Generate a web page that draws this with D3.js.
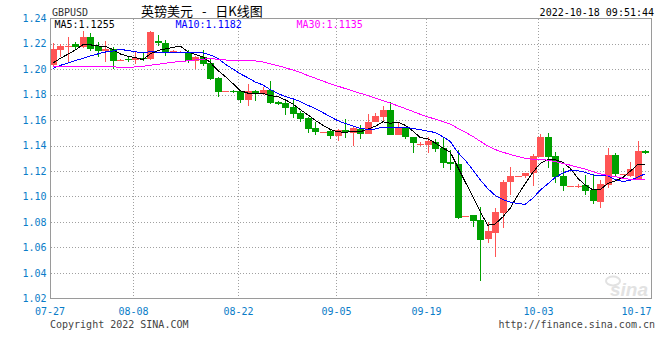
<!DOCTYPE html>
<html><head><meta charset="utf-8">
<script src="https://cdn.jsdelivr.net/npm/d3@7/dist/d3.min.js"></script>
<style>body{margin:0;background:#fff}svg{display:block}</style>
</head><body><svg id="chart" width="660" height="360"></svg>
<script>
// ---- data ----
const openP  = [1.2031,1.2151,1.2176,1.2196,1.2175,1.2249,1.2180,1.2141,1.2157,1.2069,
  1.2075,1.2068,1.2086,1.2076,1.2222,1.2202,1.2131,1.2128,1.2131,1.2065,
  1.2092,1.2045,1.1932,1.1824,1.1827,1.1827,1.1757,1.1827,1.1804,1.1835,
  1.1744,1.1736,1.1705,1.1657,1.1618,1.1540,1.1502,1.1510,1.1477,1.1522,
  1.1500,1.1530,1.1491,1.1587,1.1626,1.1678,1.1482,1.1541,1.1469,1.1409,
  1.1404,1.1428,1.1378,1.1273,1.1255,1.0843,1.0855,1.0816,1.0667,1.0716,
  1.0873,1.1116,1.1159,1.1161,1.1182,1.1312,1.1469,1.1318,1.1161,1.1079,
  1.1079,1.1090,1.1051,1.0959,1.1090,1.1325,1.1175,1.1163,1.1137,1.1357];
const highP  = [1.2204,1.2196,1.2253,1.2214,1.2298,1.2282,1.2209,1.2220,1.2175,1.2075,
  1.2094,1.2131,1.2131,1.2298,1.2267,1.2228,1.2147,1.2140,1.2149,1.2104,
  1.2149,1.2076,1.1937,1.1827,1.1835,1.1835,1.1882,1.1835,1.1861,1.1906,
  1.1749,1.1751,1.1757,1.1671,1.1626,1.1585,1.1506,1.1530,1.1527,1.1610,
  1.1545,1.1561,1.1647,1.1655,1.1710,1.1741,1.1588,1.1548,1.1469,1.1425,
  1.1467,1.1451,1.1457,1.1361,1.1365,1.0847,1.0855,1.0920,1.0802,1.0907,
  1.1129,1.1234,1.1162,1.1188,1.1333,1.1490,1.1496,1.1351,1.1221,1.1083,
  1.1096,1.1169,1.1174,1.1129,1.1383,1.1339,1.1178,1.1268,1.1438,1.1365];
const lowP   = [1.2027,1.2092,1.2057,1.2157,1.2167,1.2141,1.2097,1.2057,1.1998,1.2067,
  1.2057,1.2039,1.2065,1.2071,1.2183,1.2104,1.2125,1.2125,1.2045,1.2000,
  1.2024,1.1914,1.1783,1.1823,1.1814,1.1736,1.1712,1.1749,1.1796,1.1729,
  1.1718,1.1639,1.1618,1.1587,1.1496,1.1482,1.1501,1.1451,1.1435,1.1459,
  1.1396,1.1451,1.1491,1.1582,1.1592,1.1482,1.1482,1.1451,1.1344,1.1399,
  1.1344,1.1349,1.1226,1.1208,1.0824,1.0842,1.0763,1.0340,1.0638,1.0528,
  1.0751,1.1012,1.1158,1.1147,1.1082,1.1312,1.1221,1.1104,1.1046,1.1078,
  1.1064,1.1012,1.0939,1.0912,1.1064,1.1155,1.1174,1.1155,1.1129,1.1331];
const closeP = [1.2157,1.2183,1.2180,1.2175,1.2253,1.2157,1.2141,1.2157,1.2065,1.2072,
  1.2068,1.2084,1.2081,1.2288,1.2202,1.2131,1.2141,1.2136,1.2065,1.2097,
  1.2039,1.1922,1.1822,1.1827,1.1823,1.1757,1.1827,1.1804,1.1835,1.1731,
  1.1723,1.1697,1.1647,1.1608,1.1529,1.1508,1.1505,1.1477,1.1522,1.1504,
  1.1540,1.1491,1.1587,1.1632,1.1678,1.1482,1.1535,1.1463,1.1416,1.1412,
  1.1437,1.1373,1.1265,1.1253,1.0831,1.0847,1.0810,1.0659,1.0729,1.0881,
  1.1116,1.1161,1.1162,1.1187,1.1318,1.1469,1.1312,1.1155,1.1085,1.1082,
  1.1082,1.1045,1.0965,1.1098,1.1325,1.1176,1.1178,1.1216,1.1357,1.1339];
// moving-average values at the start of the window (need data before the window)
const ma5Head  = [1.2045,1.2084,1.2115,1.2149];
const ma10Head = [1.2004,1.2028,1.2047,1.2067,1.2082,1.2102,1.2118,1.2133,1.2141];
const ma30Head = [1.2019,1.2019,1.2019,1.2019,1.2019,1.2019,1.2019,1.2019,1.2019,
  1.2011,1.2009,1.2017,1.2021,1.2029,1.2037,1.2045,1.2053,1.2059,1.2064,1.2071,
  1.2077,1.2081,1.2077,1.2071,1.2067,1.2065,1.2065,1.2063,1.2056];
const tickLabels = ["07-27","08-08","08-22","09-05","09-19","10-03","10-17"];
const tickIndex  = [0,11,25,38,50,65,78];
const gridIndex  = [11,25,38,50,65];
const yTicks = [1.02,1.04,1.06,1.08,1.10,1.12,1.14,1.16,1.18,1.20,1.22,1.24];
const maNames = ["MA5","MA10","MA30"];
const maLegend = ["1.1255","1.1182","1.1135"];
const symbol = "GBPUSD";
const title = "英镑美元 - 日K线图";
const stamp = "2022-10-18 09:51:44";

// ---- drawing ----
const n = closeP.length;
const svg = d3.select("#chart");
const L = 50, R = 651, T = 18, B = 298.5;
const mono = "'DejaVu Sans Mono', monospace";
const x = d3.scaleBand().domain(d3.range(n)).range([49, 649]);
const xc = i => x(i) + x.bandwidth() / 2;
const y = d3.scaleLinear().domain([1.02, 1.24]).range([B, T]);

function movAvg(k, head) {
  return d3.range(n).map(i => i >= k - 1 ? d3.mean(closeP.slice(i - k + 1, i + 1)) : head[i]);
}
const mas = [movAvg(5, ma5Head), movAvg(10, ma10Head), movAvg(30, ma30Head)];
const maColors = ["#000000", "#0000ff", "#ff00ff"];

// grid
const g = svg.append("g");
g.selectAll("line.hg").data(yTicks.slice(1, -1)).join("line")
  .attr("x1", L + 1).attr("x2", R).attr("y1", d => Math.round(y(d)) + 0.5).attr("y2", d => Math.round(y(d)) + 0.5)
  .attr("stroke", "#a0a0a0").attr("stroke-dasharray", "1,2").attr("shape-rendering", "crispEdges");
g.selectAll("line.vg").data(gridIndex).join("line")
  .attr("x1", d => Math.round(xc(d)) - 1.5).attr("x2", d => Math.round(xc(d)) - 1.5)
  .attr("y1", T + 1).attr("y2", B)
  .attr("stroke", "#a0a0a0").attr("stroke-dasharray", "1,2").attr("shape-rendering", "crispEdges");

// watermark
const wm = svg.append("g").attr("fill", "#e2e2e2");
wm.append("text").attr("x", 648).attr("y", 296).attr("text-anchor", "end")
  .attr("font-family", "'Liberation Sans', Arial, sans-serif").attr("font-style", "italic")
  .attr("font-weight", "bold").attr("font-size", 19).text("sina");
wm.append("ellipse").attr("cx", 613).attr("cy", 281).attr("rx", 7).attr("ry", 4.5)
  .attr("fill", "none").attr("stroke", "#e2e2e2").attr("stroke-width", 2);

// candles
const cg = svg.append("g").attr("shape-rendering", "crispEdges");
const up = i => closeP[i] >= openP[i];
const red = "#ff5555", green = "#00a000";
cg.selectAll("line.wick").data(d3.range(n)).join("line")
  .attr("x1", i => Math.round(xc(i) - 3) + 3.5).attr("x2", i => Math.round(xc(i) - 3) + 3.5)
  .attr("y1", i => y(highP[i])).attr("y2", i => y(lowP[i]))
  .attr("stroke", i => up(i) ? red : green);
cg.selectAll("rect.body").data(d3.range(n)).join("rect")
  .attr("x", i => Math.round(xc(i) - 3)).attr("width", 7)
  .attr("y", i => y(Math.max(openP[i], closeP[i])))
  .attr("height", i => Math.max(1, Math.abs(y(openP[i]) - y(closeP[i]))))
  .attr("fill", i => up(i) ? red : green);

// moving averages
mas.forEach((m, k) => {
  svg.append("path").datum(m)
    .attr("d", d3.line().x((d, i) => xc(i)).y(d => y(d)))
    .attr("fill", "none").attr("stroke", maColors[k]).attr("stroke-width", 1)
    .attr("shape-rendering", "crispEdges");
});

// frame
svg.append("path")
  .attr("d", `M${L + 0.5},${T + 0.5}H${R + 0.5}V${B}H${L + 0.5}Z`)
  .attr("fill", "none").attr("stroke", "#9a9a9a").attr("shape-rendering", "crispEdges");

// y axis labels
svg.append("g").selectAll("text").data(yTicks).join("text")
  .attr("x", 46.5).attr("y", d => y(d)).attr("dy", "0.35em").attr("text-anchor", "end")
  .attr("font-family", mono).attr("font-size", 10).attr("fill", "#0a7cc8")
  .text(d => d.toFixed(2));

// x axis labels
svg.append("g").selectAll("text").data(tickIndex).join("text")
  .attr("x", (d, i) => i === 0 ? L : Math.round(xc(d)) - 1.5).attr("y", 315).attr("text-anchor", "middle")
  .attr("font-family", mono).attr("font-size", 10).attr("fill", "#0a7cc8")
  .text((d, i) => tickLabels[i]);

// header
svg.append("text").attr("x", 52).attr("y", 16).attr("font-family", mono).attr("font-size", 10)
  .attr("fill", "#333").text(symbol);
svg.append("text").attr("x", 141).attr("y", 16).attr("font-family", "'Noto Sans CJK SC', sans-serif")
  .attr("font-size", 13).attr("fill", "#000").attr("word-spacing", 6)
  .text(title);
svg.append("text").attr("x", 654).attr("y", 16).attr("text-anchor", "end").attr("font-family", mono)
  .attr("font-size", 10).attr("fill", "#000").text(stamp);

// legend
const legX = [54.5, 175.5, 296.5];
svg.append("g").selectAll("text").data(maNames).join("text")
  .attr("x", (d, i) => legX[i]).attr("y", 28).attr("font-family", mono).attr("font-size", 10)
  .attr("fill", (d, i) => maColors[i]).text((d, i) => d + ":" + maLegend[i]);

// footer
svg.append("text").attr("x", 50).attr("y", 328).attr("font-family", mono).attr("font-size", 10)
  .attr("fill", "#444").text("Copyright 2022 SINA.COM");
svg.append("text").attr("x", 655).attr("y", 328).attr("text-anchor", "end").attr("font-family", mono)
  .attr("font-size", 10).attr("fill", "#444").text("http://finance.sina.com.cn");
</script></body></html>
